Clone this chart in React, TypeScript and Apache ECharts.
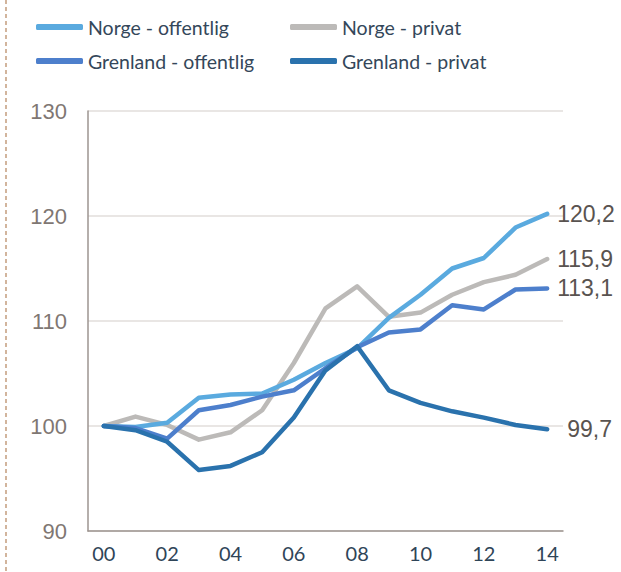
import React, { useEffect, useRef } from "react";
import * as echarts from "echarts";

const years = ["00", "01", "02", "03", "04", "05", "06", "07", "08", "09", "10", "11", "12", "13", "14"];
const norgeOffentlig = [100, 99.9, 100.3, 102.7, 103.0, 103.1, 104.4, 106.0, 107.4, 110.3, 112.5, 115.0, 116.0, 118.9, 120.2];
const norgePrivat = [100, 100.9, 100.1, 98.7, 99.4, 101.5, 106.0, 111.2, 113.3, 110.4, 110.8, 112.5, 113.7, 114.4, 115.9];
const grenlandOffentlig = [100, 99.8, 98.8, 101.5, 102.0, 102.8, 103.4, 105.5, 107.5, 108.9, 109.2, 111.5, 111.1, 113.0, 113.1];
const grenlandPrivat = [100, 99.6, 98.5, 95.8, 96.2, 97.5, 100.8, 105.3, 107.6, 103.4, 102.2, 101.4, 100.8, 100.1, 99.7];
const yTicks = { min: 90, max: 130, interval: 10 };

const names = ["Norge - offentlig", "Norge - privat", "Grenland - offentlig", "Grenland - privat"];
const colors = ["#5aaadf", "#bcbab8", "#4d7fcc", "#2a72ad"];
const datasets = [norgeOffentlig, norgePrivat, grenlandOffentlig, grenlandPrivat];
const endDistances = [10, 10, 10, 20];

export default function App() {
  const ref = useRef<HTMLDivElement>(null);
  useEffect(() => {
    if (!ref.current) return;
    const chart = echarts.init(ref.current, null, { renderer: "svg" });
    const legendText = { fontFamily: "Lato", fontSize: 19.5, color: "#34475a", lineHeight: 20 };
    const legendBase = {
      orient: "vertical",
      top: 17,
      padding: 0,
      itemWidth: 47,
      itemHeight: 6,
      itemGap: 14,
      icon: "roundRect",
      textStyle: legendText,
    };
    chart.setOption({
      animation: false,
      backgroundColor: "#ffffff",
      legend: [
        { ...legendBase, left: 36, data: [names[0], names[2]] },
        { ...legendBase, left: 290, data: [names[1], names[3]] },
      ],
      grid: { left: 88, right: 58, top: 111, bottom: 41, containLabel: false },
      xAxis: {
        type: "category",
        data: years,
        boundaryGap: true,
        axisLine: { show: true, lineStyle: { color: "#9d9590", width: 1.5 } },
        axisTick: { show: false },
        axisLabel: {
          interval: 1,
          margin: 12,
          fontFamily: "Lato",
          fontSize: 20,
          color: "#2f4558",
        },
        splitLine: { show: false },
      },
      yAxis: {
        type: "value",
        min: yTicks.min,
        max: yTicks.max,
        interval: yTicks.interval,
        axisLine: { show: true, lineStyle: { color: "#9d9590", width: 1.5 } },
        axisTick: { show: false },
        axisLabel: {
          margin: 21,
          fontFamily: "Liberation Sans",
          fontSize: 22,
          color: "#7f7773",
        },
        splitLine: { show: true, lineStyle: { color: "#e2dedb", width: 1.5 } },
      },
      graphic: [
        {
          type: "line",
          shape: { x1: 6, y1: 0, x2: 6, y2: 572 },
          style: { stroke: "#b5845c", lineWidth: 1.2, lineDash: [4, 3] },
        },
      ],
      series: datasets.map((d, i) => ({
        name: names[i],
        type: "line",
        data: d,
        symbol: "none",
        color: colors[i],
        lineStyle: { width: 4.5, color: colors[i], cap: "round", join: "round" },
        endLabel: {
          show: true,
          distance: endDistances[i],
          formatter: (p: any) => String(p.value).replace(".", ","),
          fontFamily: "Liberation Sans",
          fontSize: 23,
          color: "#595350",
        },
        z: [2, 1, 3, 4][i],
      })),
    });
    return () => chart.dispose();
  }, []);
  return <div ref={ref} style={{ width: 621, height: 572, position: "absolute", left: 0, top: 0 }} />;
}
